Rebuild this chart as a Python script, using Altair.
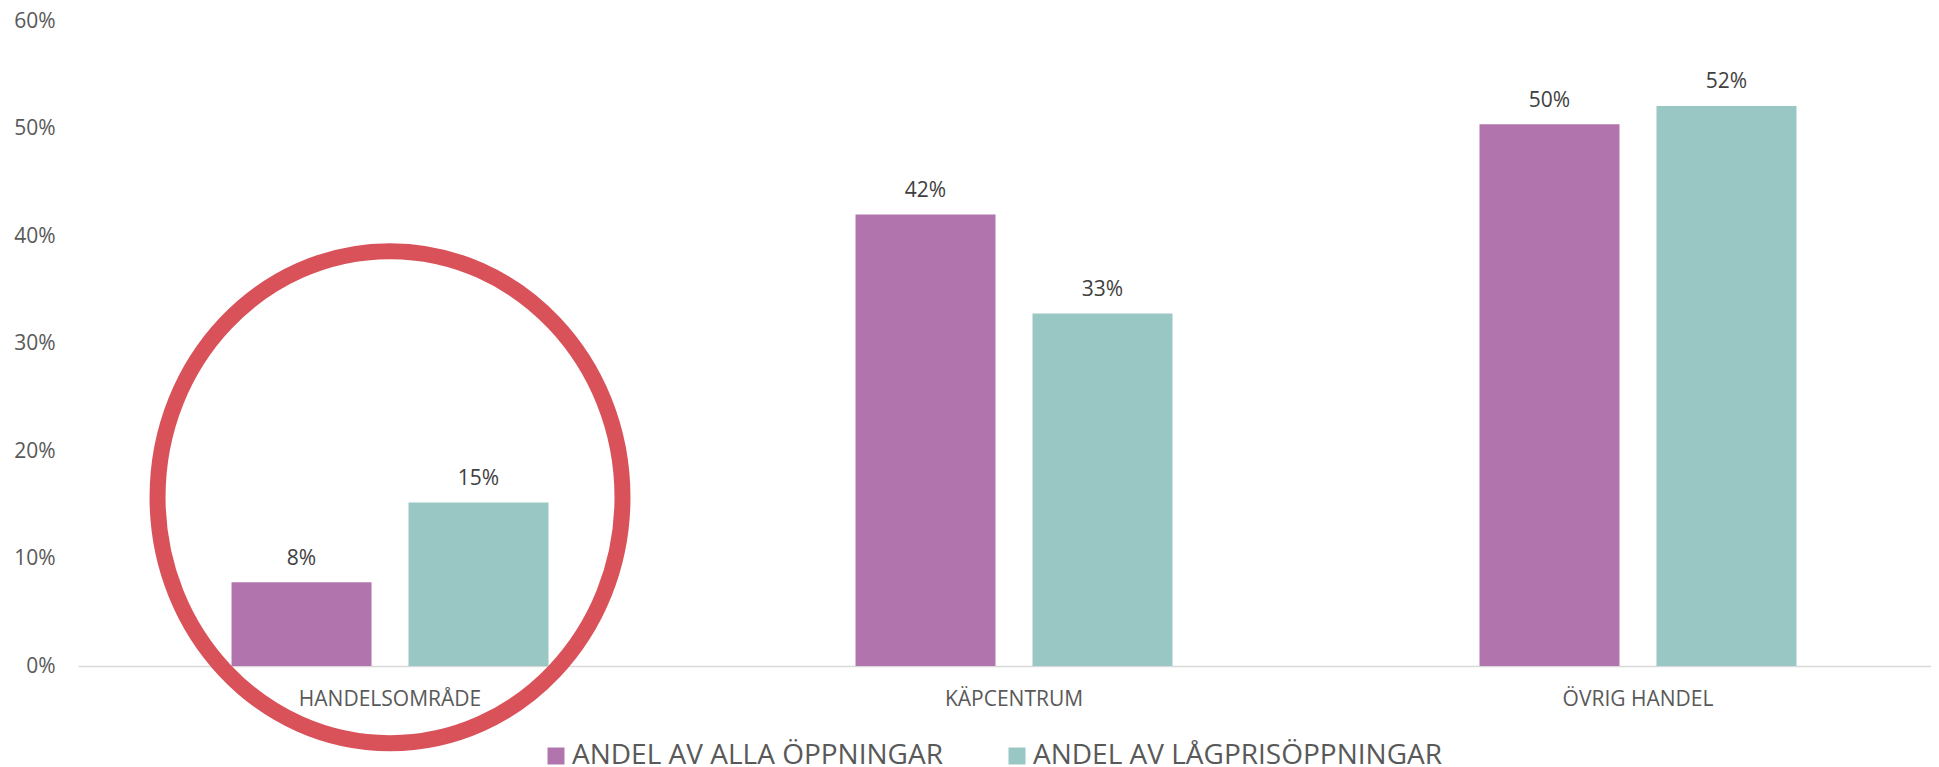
import altair as alt
import pandas as pd

categories = ["HANDELSOMRÅDE", "KÄPCENTRUM", "ÖVRIG HANDEL"]
series = ["ANDEL AV ALLA ÖPPNINGAR", "ANDEL AV LÅGPRISÖPPNINGAR"]
alla = [0.078, 0.420, 0.504]
lagpris = [0.152, 0.328, 0.521]
colors = ["#B274AC", "#99C7C3"]
y_ticks = [0, 0.1, 0.2, 0.3, 0.4, 0.5, 0.6]

# annotation ellipse around the first category
highlight_cat = ["HANDELSOMRÅDE"]
highlight_y = [0.157]

rows = []
for c, a, l in zip(categories, alla, lagpris):
    rows.append({"area": c, "series": series[0], "value": a})
    rows.append({"area": c, "series": series[1], "value": l})
df = pd.DataFrame(rows)
df_ell = pd.DataFrame({"area": highlight_cat, "value": highlight_y})

FONT = "Open Sans"
GRAY = "#595959"

x_enc = alt.X(
    "area:N",
    scale=alt.Scale(domain=categories, paddingInner=0.492, paddingOuter=0.2308, align=0.533),
    axis=alt.Axis(
        title=None, labelAngle=0, ticks=False, domainColor="#D9D9D9", domainWidth=1.5,
        labelFontSize=21, labelColor=GRAY, labelPadding=22.5, labelFont=FONT, labelLimit=500,
    ),
)
y_enc = alt.Y(
    "value:Q",
    scale=alt.Scale(domain=[0, 0.6]),
    axis=alt.Axis(
        title=None, format=".0%", values=y_ticks, grid=False, domain=False, ticks=False,
        labelFontSize=21, labelColor=GRAY, labelPadding=23, labelFont=FONT,
    ),
)
xoff = alt.XOffset("series:N", sort=series, scale=alt.Scale(domain=series, paddingInner=0.209, paddingOuter=0))

bars = alt.Chart(df).mark_bar().encode(
    x=x_enc,
    y=y_enc,
    xOffset=xoff,
    color=alt.Color(
        "series:N",
        scale=alt.Scale(domain=series, range=colors),
        legend=alt.Legend(
            title=None, orient="none", legendX=464, legendY=721, direction="horizontal",
            symbolType="square", symbolSize=289, symbolStrokeWidth=0, labelFontSize=28,
            labelColor=GRAY, labelFont=FONT, labelOffset=2, columnPadding=60, padding=0,
            labelLimit=600,
        ),
    ),
)

labels = alt.Chart(df).mark_text(
    dy=-17.5, baseline="alphabetic", fontSize=21, font=FONT, color="#404040"
).encode(
    x=x_enc,
    y=y_enc,
    xOffset=xoff,
    text=alt.Text("value:Q", format=".0%"),
)

ellipse_path = "M -0.945 0 A 0.945 1 0 1 1 0.945 0 A 0.945 1 0 1 1 -0.945 0 Z"
ellipse = alt.Chart(df_ell).mark_point(
    shape=ellipse_path, filled=False, stroke="#D9525A", strokeWidth=16, opacity=1
).encode(
    x=x_enc,
    y=y_enc,
    size=alt.value(242064),
)

chart = alt.layer(bars, labels, ellipse).properties(
    width=1853,
    height=645,
    autosize=alt.AutoSizeParams(type="none"),
    padding={"left": 70, "top": 13, "right": 0, "bottom": 104},
    background="white",
).configure_view(stroke=None)

chart.save("out.html", embed_options={"renderer": "svg", "actions": False})
